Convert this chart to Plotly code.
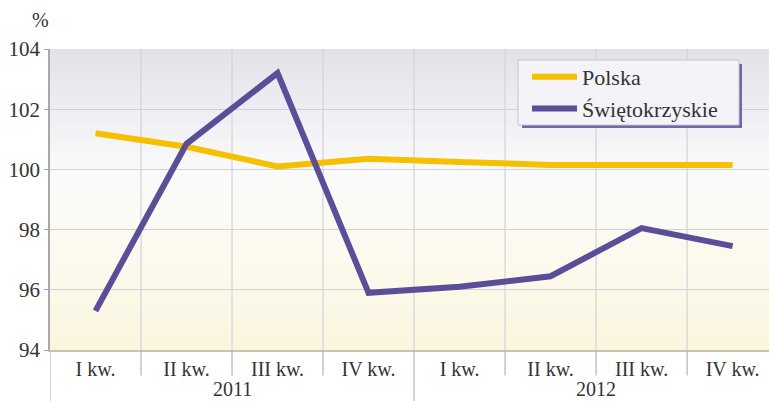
import plotly.graph_objects as go

quarters = ["I kw.", "II kw.", "III kw.", "IV kw.", "I kw.", "II kw.", "III kw.", "IV kw."]
years = ["2011", "2012"]
polska = [101.2, 100.75, 100.1, 100.35, 100.25, 100.15, 100.15, 100.15]
swietokrzyskie = [95.3, 100.85, 103.2, 95.9, 96.1, 96.45, 98.05, 97.45]
y_ticks = [94, 96, 98, 100, 102, 104]

x = list(range(len(quarters)))
SERIF = "Liberation Serif, Times New Roman, DejaVu Serif, serif"

fig = go.Figure()
fig.add_trace(go.Scatter(x=x, y=polska, mode="lines", name="Polska", legendgroup="a",
                         line=dict(color="#f5c000", width=6)))
fig.add_trace(go.Scatter(x=x, y=swietokrzyskie, mode="lines", name="Świętokrzyskie",
                         legendgroup="b", line=dict(color="#5a4e98", width=6)))

PW, PH, L, T = 719, 301, 50, 49
def px(xp):
    return (xp - L) / PW
def py(yp):
    return (T + PH - yp) / PH

shapes = []
# vertical gradient background (bands)
stops = [(94.0, (250, 245, 222)), (97.0, (252, 250, 238)), (100.0, (250, 250, 250)),
         (102.0, (238, 238, 243)), (104.0, (225, 225, 233))]
def col_at(v):
    for (a, ca), (b, cb) in zip(stops[:-1], stops[1:]):
        if a <= v <= b:
            t = (v - a) / (b - a)
            return tuple(round(ca[i] + (cb[i] - ca[i]) * t) for i in range(3))
    return stops[-1][1]
n = 60
for i in range(n):
    y0 = 94 + 10 * i / n
    y1 = 94 + 10 * (i + 1) / n
    c = col_at((y0 + y1) / 2)
    shapes.append(dict(type="rect", xref="paper", yref="y", x0=0, x1=1, y0=y0, y1=y1 + 0.02,
                       fillcolor="rgb(%d,%d,%d)" % c, line=dict(width=0), layer="below"))
# vertical grid lines between categories + dividers below
for k in range(len(quarters)):
    xb = k - 0.5
    if k > 0:
        shapes.append(dict(type="line", xref="x", yref="paper", x0=xb, x1=xb, y0=0, y1=1,
                           line=dict(color="#d2d2d6", width=1.2), layer="below"))
    long_div = (k == 0 or k == 4)
    shapes.append(dict(type="line", xref="x", yref="paper", x0=xb, x1=xb, y0=0,
                       y1=-0.175 if long_div else -0.085,
                       line=dict(color="#b4b4b4", width=1.2)))
# legend box: shadow + body
shapes.append(dict(type="rect", xref="paper", yref="paper",
                   x0=px(522), x1=px(742), y0=py(128), y1=py(64),
                   fillcolor="#6f6aa2", line=dict(width=0), layer="above"))
shapes.append(dict(type="rect", xref="paper", yref="paper",
                   x0=px(518), x1=px(739), y0=py(125), y1=py(60),
                   fillcolor="#f3f3f8", line=dict(color="#c4c2da", width=1), layer="above"))

annotations = [
    dict(text="%", xref="paper", yref="paper", x=px(40), y=py(20),
         showarrow=False, font=dict(size=20, color="#333333", family=SERIF),
         xanchor="center", yanchor="middle"),
]
for i, yr in enumerate(years):
    annotations.append(dict(text=yr, xref="x", yref="paper", x=1.5 + 4 * i, y=py(389),
                            showarrow=False, xanchor="center", yanchor="middle",
                            font=dict(size=20, color="#333333", family=SERIF)))

fig.update_layout(
    width=769, height=401,
    margin=dict(l=L, r=0, t=T, b=401 - T - PH),
    paper_bgcolor="white", plot_bgcolor="rgba(0,0,0,0)",
    font=dict(family=SERIF, color="#333333", size=20),
    showlegend=True,
    legend=dict(x=px(527), y=py(56), xanchor="left", yanchor="top",
                bgcolor="rgba(0,0,0,0)", borderwidth=0,
                font=dict(size=22, family=SERIF, color="#333333"),
                traceorder="grouped", tracegroupgap=0, itemwidth=45),
    shapes=shapes,
    annotations=annotations,
)
fig.update_xaxes(range=[-0.5, 7.4], tickmode="array", tickvals=x, ticktext=quarters,
                 showgrid=False, zeroline=False, showline=True, linecolor="#c8c4a8",
                 linewidth=1.5, ticks="", tickfont=dict(size=20, color="#333333"),
                 automargin=False)
fig.update_yaxes(range=[94, 104], tickvals=y_ticks, showgrid=True, gridcolor="#d2d2d6",
                 gridwidth=1.2, zeroline=False, showline=True, linecolor="#a8a8a8",
                 linewidth=1.5, ticks="outside", ticklen=4, tickcolor="#a8a8a8",
                 tickfont=dict(size=21, color="#333333"), automargin=False)

fig.write_html("out.html", post_script="document.body.style.margin='0';",
               config={"displayModeBar": False})
